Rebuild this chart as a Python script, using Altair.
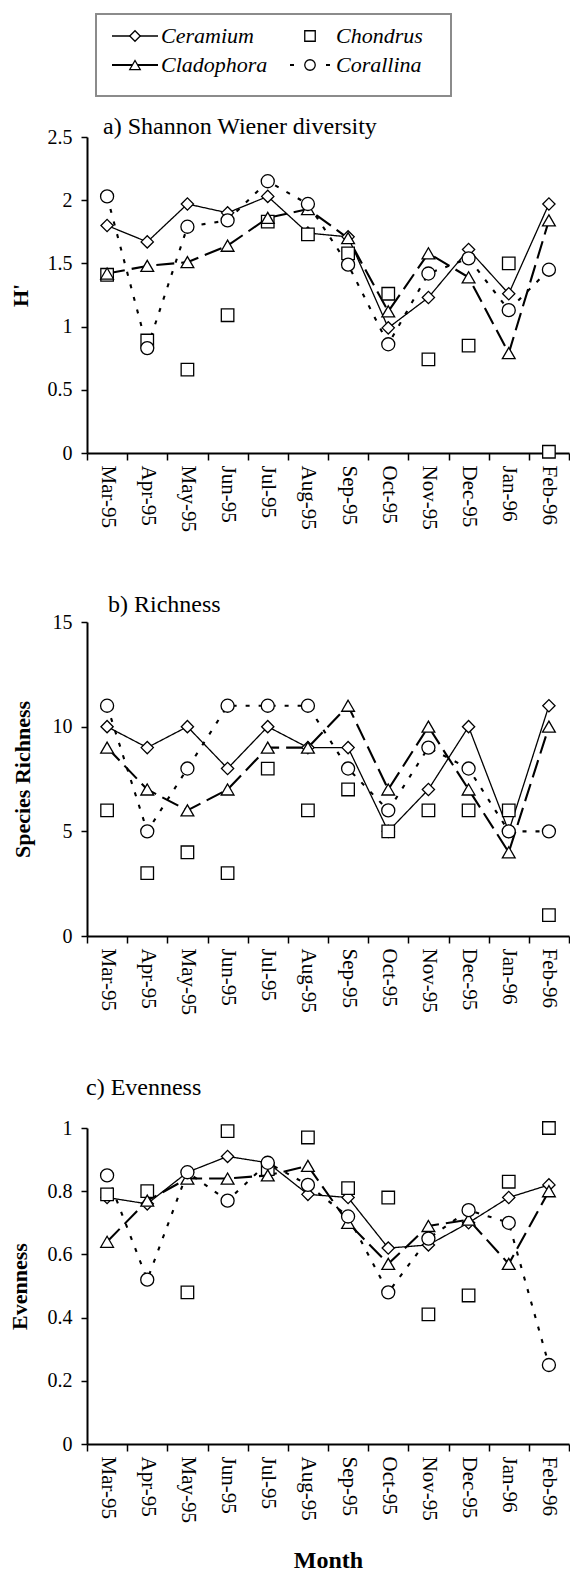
import altair as alt
import pandas as pd

FONT = "Liberation Serif"

months = ["Mar-95", "Apr-95", "May-95", "Jun-95", "Jul-95", "Aug-95",
          "Sep-95", "Oct-95", "Nov-95", "Dec-95", "Jan-96", "Feb-96"]
series_names = ["Ceramium", "Chondrus", "Cladophora", "Corallina"]

# a) Shannon Wiener diversity (H')
h_ceramium = [1.80, 1.67, 1.97, 1.90, 2.03, 1.74, 1.71, 0.99, 1.23, 1.61, 1.26, 1.97]
h_chondrus = [1.41, 0.89, 0.66, 1.09, 1.83, 1.73, 1.58, 1.26, 0.74, 0.85, 1.50, 0.01]
h_cladophora = [1.42, 1.48, 1.51, 1.64, 1.86, 1.93, 1.70, 1.12, 1.58, 1.39, 0.79, 1.84]
h_corallina = [2.03, 0.83, 1.79, 1.84, 2.15, 1.97, 1.49, 0.86, 1.42, 1.54, 1.13, 1.45]

# b) Richness
r_ceramium = [10, 9, 10, 8, 10, 9, 9, 5, 7, 10, 5, 11]
r_chondrus = [6, 3, 4, 3, 8, 6, 7, 5, 6, 6, 6, 1]
r_cladophora = [9, 7, 6, 7, 9, 9, 11, 7, 10, 7, 4, 10]
r_corallina = [11, 5, 8, 11, 11, 11, 8, 6, 9, 8, 5, 5]

# c) Evenness
e_ceramium = [0.78, 0.76, 0.86, 0.91, 0.89, 0.79, 0.78, 0.62, 0.63, 0.70, 0.78, 0.82]
e_chondrus = [0.79, 0.80, 0.48, 0.99, 0.87, 0.97, 0.81, 0.78, 0.41, 0.47, 0.83, 1.00]
e_cladophora = [0.64, 0.77, 0.84, 0.84, 0.85, 0.88, 0.70, 0.57, 0.69, 0.71, 0.57, 0.80]
e_corallina = [0.85, 0.52, 0.86, 0.77, 0.89, 0.82, 0.72, 0.48, 0.65, 0.74, 0.70, 0.25]

# legend layout (column / row index of each entry)
legend_col = [0, 1, 0, 1]
legend_row = [0, 0, 1, 1]

shape_range = ["diamond", "square", "triangle-up", "circle"]
size_range = [150, 170, 170, 180]
line_styles = {
    "Ceramium": dict(strokeDash=[1, 0], strokeWidth=1.3),
    "Cladophora": dict(strokeDash=[18, 7], strokeWidth=2.1),
    "Corallina": dict(strokeDash=[4, 9], strokeWidth=2.1),
}

W = 482


def long_df(ceramium, chondrus, cladophora, corallina):
    rows = []
    for s, vals in zip(series_names, [ceramium, chondrus, cladophora, corallina]):
        for m, v in zip(months, vals):
            rows.append({"month": m, "series": s, "value": v})
    return pd.DataFrame(rows)


shape_scale = alt.Scale(domain=series_names, range=shape_range)
size_scale = alt.Scale(domain=series_names, range=size_range)


def data_layers(df, ytitle, ydomain, yticks, title_pad, xtitle=None):
    xaxis = alt.Axis(title=xtitle, labelAngle=90, tickBand="extent", tickSize=7,
                     labelPadding=5, labelFontSize=21, titleFontSize=24,
                     titleFontWeight="bold", titlePadding=26, domainWidth=2,
                     tickWidth=1.5, labelFont=FONT, titleFont=FONT,
                     labelColor="black", titleColor="black",
                     domainColor="black", tickColor="black")
    x = alt.X("month:N", sort=months, bandPosition=0.5,
              scale=alt.Scale(type="band", paddingInner=0, paddingOuter=0),
              axis=xaxis)
    y = alt.Y("value:Q", scale=alt.Scale(domain=ydomain, nice=False),
              axis=alt.Axis(title=ytitle, values=yticks, format="~g", grid=False, tickSize=6,
                            labelPadding=9, labelFontSize=20, titleFontSize=22,
                            titleFontWeight="bold", titlePadding=title_pad,
                            domainWidth=2, tickWidth=1.5, labelFont=FONT, titleFont=FONT,
                            labelColor="black", titleColor="black",
                            domainColor="black", tickColor="black"))
    layers = []
    for s, st in line_styles.items():
        layers.append(
            alt.Chart(df).transform_filter(alt.datum.series == s)
            .mark_line(color="black", **st)
            .encode(x=x, y=y)
        )
    layers.append(
        alt.Chart(df).mark_point(filled=True, fill="white", stroke="black",
                                 strokeWidth=1.3, opacity=1)
        .encode(x=x, y=y,
                shape=alt.Shape("series:N", scale=shape_scale, legend=None),
                size=alt.Size("series:N", scale=size_scale, legend=None))
    )
    return alt.layer(*layers)


def title(text, dx, offset):
    return alt.TitleParams(text=text, anchor="start", frame="group", fontSize=24, font=FONT,
                           fontWeight="normal", color="black", dx=dx, offset=offset)


# ---------- legend (drawn above panel a) ----------
leg = pd.DataFrame({"series": series_names, "col": legend_col, "row": legend_row})
COL0, COLSTEP = 48, 175          # px of first column symbol, column step
ROW0, ROWSTEP = -101, 29         # px of first row (above plot), row step
HA = 316
lx = alt.Scale(domain=[-COL0 / COLSTEP, (W - COL0) / COLSTEP])
ly = alt.Scale(domain=[-ROW0 / ROWSTEP, -ROW0 / ROWSTEP + HA / ROWSTEP], reverse=True)
half = 23 / COLSTEP
legbase = alt.Chart(leg).transform_calculate(
    x0=f"datum.col - {half}", x1=f"datum.col + {half}", xt=f"datum.col + {26 / COLSTEP}"
)
leg_layers = [
    alt.Chart(leg).mark_rect(fill="white", fillOpacity=0, stroke="#8a8a8a", strokeWidth=1.5)
    .encode(x=alt.value(9), x2=alt.value(364), y=alt.value(-123), y2=alt.value(-41)),
    alt.Chart(pd.DataFrame({"t": ["a) Shannon Wiener diversity"]}))
    .mark_text(align="left", baseline="alphabetic", font=FONT, fontSize=24, color="black")
    .encode(x=alt.value(16), y=alt.value(-3), text="t:N"),
]
leg_line_dash = {"Ceramium": ([1, 0], 1.3), "Cladophora": ([1, 0], 2.1),
                 "Corallina": ([0, 3, 4, 32, 4, 3], 2.1)}
for s, (dash, sw) in leg_line_dash.items():
    leg_layers.append(
        legbase.transform_filter(alt.datum.series == s)
        .mark_rule(color="black", strokeDash=dash, strokeWidth=sw)
        .encode(x=alt.X("x0:Q", scale=lx, axis=None), x2="x1:Q",
                y=alt.Y("row:Q", scale=ly, axis=None))
    )
leg_layers.append(
    legbase.mark_point(filled=True, fill="white", stroke="black", strokeWidth=1.3, opacity=1, size=110)
    .encode(x=alt.X("col:Q", scale=lx, axis=None), y=alt.Y("row:Q", scale=ly, axis=None),
            shape=alt.Shape("series:N", scale=shape_scale, legend=None))
)
leg_layers.append(
    legbase.mark_text(align="left", baseline="middle", font=FONT, fontSize=22,
                      fontStyle="italic", color="black")
    .encode(x=alt.X("xt:Q", scale=lx, axis=None), y=alt.Y("row:Q", scale=ly, axis=None),
            text="series:N")
)
legend_layer = alt.layer(*leg_layers)

# ---------- panels ----------
df_a = long_df(h_ceramium, h_chondrus, h_cladophora, h_corallina)
df_b = long_df(r_ceramium, r_chondrus, r_cladophora, r_corallina)
df_c = long_df(e_ceramium, e_chondrus, e_cladophora, e_corallina)

panel_a = alt.layer(
    data_layers(df_a, "H'", [0, 2.5], [0, 0.5, 1, 1.5, 2, 2.5], 15),
    legend_layer,
).resolve_scale(x="independent", y="independent", shape="independent").properties(
    width=W, height=HA)

panel_b = data_layers(df_b, "Species Richness", [0, 15], [0, 5, 10, 15], 18).properties(
    width=W, height=314, title=title("b) Richness", 21, -5))

panel_c = data_layers(df_c, "Evenness", [0, 1], [0, 0.2, 0.4, 0.6, 0.8, 1], 16,
                      xtitle="Month").properties(
    width=W, height=316, title=title("c) Evenness", -1, 18))

chart = alt.vconcat(panel_a, panel_b, panel_c, spacing=61).properties(
    padding={"left": 0, "top": 5, "right": 0, "bottom": 0}
).configure_view(strokeWidth=0)

chart.save("out.html", embed_options={"renderer": "svg", "actions": False})
